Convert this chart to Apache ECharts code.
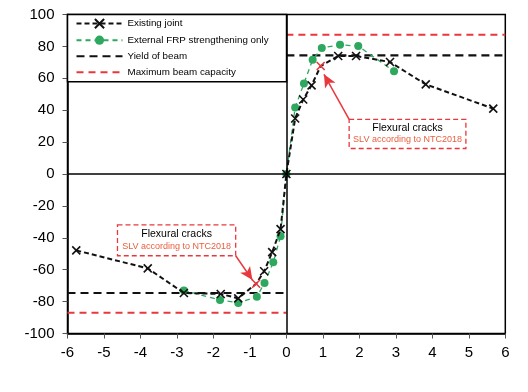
<!DOCTYPE html>
<html>
<head>
<meta charset="utf-8">
<script src="https://cdn.jsdelivr.net/npm/echarts@6/dist/echarts.min.js"></script>
<style>html,body{margin:0;padding:0;background:#fff;}#c{width:528px;height:392px;}</style>
</head>
<body>
<div id="c"></div>
<script>
// ---- data ----
const existingX = [-5.76, -3.8, -2.81, -1.8, -1.32, -0.83, -0.61, -0.39, -0.16, 0, 0.24, 0.46, 0.69, 0.94, 1.42, 1.91, 2.84, 3.82, 5.67];
const existingY = [-47.9, -59.2, -74.6, -75.2, -78, -68.8, -61, -49, -34.6, 0, 34.8, 46.7, 55.6, 67.7, 74, 74, 70.2, 56.2, 41];
const slvPoints = [-0.83, 0.94]; // x values of SLV (flexural crack) points
const frpX = [-2.81, -1.82, -1.32, -0.81, -0.6, -0.36, -0.16, 0, 0.24, 0.48, 0.72, 0.97, 1.47, 1.97, 2.95];
const frpY = [-73, -79, -80.8, -77, -68.3, -55.4, -39, 0, 41.7, 56.7, 71.7, 79, 81, 80.2, 64.4];
const yieldPos = 74.4, yieldNeg = -74.6;
const maxCapPos = 87.3, maxCapNeg = -87;
const xTicks = [-6, 6, 1];
const yTicks = [-100, 100, 20];
const seriesNames = ['Existing joint', 'External FRP strengthening only', 'Yield of beam', 'Maximum beam capacity'];
const annText = ['Flexural cracks', 'SLV according to NTC2018'];

const BLACK = '#111', GREEN = '#2ea85f', RED = '#e8383d', ORANGE = '#e8603f';
const crossPath = 'path://M0,0L10,10M10,0L0,10';

const existingData = existingX.map((x, i) => {
  const d = { value: [x, existingY[i]] };
  if (slvPoints.includes(x)) d.itemStyle = { color: RED, borderColor: RED };
  return d;
});
const frpData = frpX.map((x, i) => [x, frpY[i]]);

const chart = echarts.init(document.getElementById('c'), null, { renderer: 'canvas' });
const font = 'Liberation Sans, Arial, Helvetica, sans-serif';

const annLabel = {
  show: true, position: 'inside',
  formatter: '{a|' + annText[0] + '}\n{b|' + annText[1] + '}',
  rich: {
    a: { fontSize: 10.5, color: '#000', fontFamily: font, lineHeight: 12 },
    b: { fontSize: 9, color: ORANGE, fontFamily: font, lineHeight: 12 }
  }
};

chart.setOption({
  animation: false,
  backgroundColor: '#fff',
  textStyle: { fontFamily: font },
  grid: { left: 67.5, right: 22.7, top: 14.5, bottom: 58.5, show: true, borderColor: '#000', borderWidth: 1.5, backgroundColor: 'transparent' },
  xAxis: {
    type: 'value', min: xTicks[0], max: xTicks[1], interval: xTicks[2],
    axisLine: { onZero: false, lineStyle: { color: '#000', width: 1.5 } },
    axisTick: { show: true, length: 5, lineStyle: { color: '#555' } },
    axisLabel: { color: '#000', fontSize: 15, margin: 12, fontFamily: font },
    splitLine: { show: false }
  },
  yAxis: {
    type: 'value', min: yTicks[0], max: yTicks[1], interval: yTicks[2],
    axisLine: { onZero: false, lineStyle: { color: '#000', width: 1.5 } },
    axisTick: { show: true, length: 5, lineStyle: { color: '#555' } },
    axisLabel: { color: '#000', fontSize: 15, margin: 13, fontFamily: font },
    splitLine: { show: false }
  },
  legend: {
    data: [
      { name: seriesNames[0] },
      { name: seriesNames[1] },
      { name: seriesNames[2], itemStyle: { opacity: 0 } },
      { name: seriesNames[3], itemStyle: { opacity: 0 } }
    ],
    orient: 'vertical', left: 67.5, top: 14.5,
    backgroundColor: '#fff', borderColor: '#000', borderWidth: 1.5,
    padding: [3.5, 18, 4.5, 8], itemGap: 6, itemWidth: 46, itemHeight: 11.5,
    textStyle: { fontSize: 9.8, color: '#000', fontFamily: font }
  },
  series: [
    {
      name: 'zero', type: 'line', data: [], silent: true,
      markLine: {
        silent: true, symbol: 'none', label: { show: false },
        lineStyle: { color: '#000', type: 'solid', width: 1.5 },
        data: [{ xAxis: 0 }, { yAxis: 0 }]
      },
      markArea: {
        silent: true,
        itemStyle: { color: '#fff', borderColor: RED, borderWidth: 1.3, borderType: [5, 3] },
        label: annLabel,
        data: [
          [{ coord: [1.72, 34.2] }, { coord: [4.92, 16] }],
          [{ coord: [-4.63, -31.9] }, { coord: [-1.39, -51.25] }]
        ]
      }
    },
    {
      name: 'arrows', type: 'line', data: [], silent: true, z: 5,
      markLine: {
        silent: true, label: { show: false },
        symbol: ['none', 'arrow'], symbolSize: [9, 13],
        lineStyle: { color: RED, type: 'solid', width: 1.5 },
        data: [
          [{ coord: [1.72, 34.2] }, { coord: [1.03, 62.5] }],
          [{ coord: [-1.39, -51.25] }, { coord: [-0.93, -66.5] }]
        ]
      }
    },
    {
      name: seriesNames[2], type: 'line', symbol: 'none', z: 2,
      lineStyle: { color: BLACK, width: 2.2, type: [8, 5] }, itemStyle: { color: BLACK },
      data: [[0, yieldPos], [6, yieldPos]]
    },
    {
      name: seriesNames[2], type: 'line', symbol: 'none', z: 2,
      lineStyle: { color: BLACK, width: 2.2, type: [8, 5] }, itemStyle: { color: BLACK },
      data: [[-6, yieldNeg], [0, yieldNeg]]
    },
    {
      name: seriesNames[3], type: 'line', symbol: 'none', z: 2,
      lineStyle: { color: RED, width: 1.8, type: [7, 5] }, itemStyle: { color: RED },
      data: [[0, maxCapPos], [6, maxCapPos]]
    },
    {
      name: seriesNames[3], type: 'line', symbol: 'none', z: 2,
      lineStyle: { color: RED, width: 1.8, type: [7, 5] }, itemStyle: { color: RED },
      data: [[-6, maxCapNeg], [0, maxCapNeg]]
    },
    {
      name: seriesNames[1], type: 'line', z: 3,
      symbol: 'circle', symbolSize: 8,
      lineStyle: { color: GREEN, width: 1.3, type: [5, 4] },
      itemStyle: { color: GREEN },
      data: frpData
    },
    {
      name: seriesNames[0], type: 'line', z: 4,
      symbol: crossPath, symbolSize: 8,
      lineStyle: { color: BLACK, width: 2, type: [5, 3] },
      itemStyle: { color: BLACK, borderColor: BLACK, borderWidth: 1.6 },
      data: existingData
    }
  ]
});
</script>
</body>
</html>
